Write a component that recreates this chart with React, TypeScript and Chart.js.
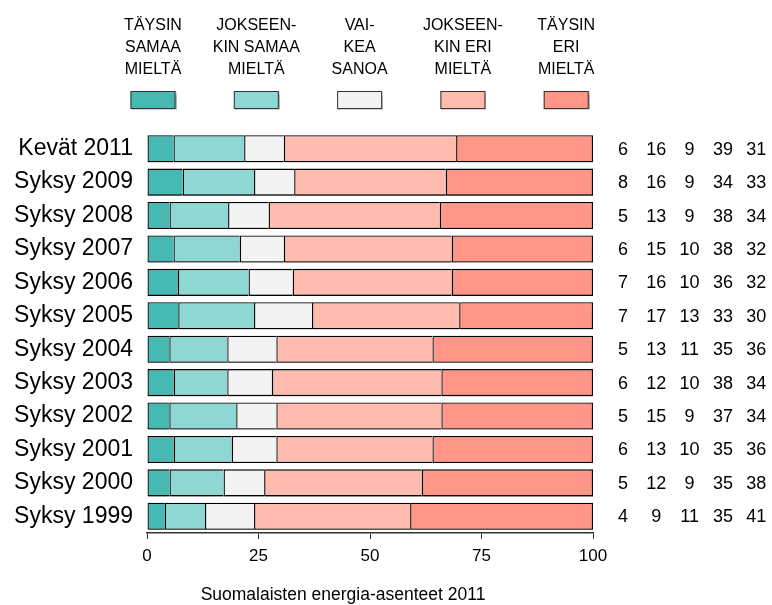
import React, { useEffect, useRef } from "react";
import { Chart, registerables } from "chart.js";
Chart.register(...registerables);

const categories = [
  "Kevät 2011", "Syksy 2009", "Syksy 2008", "Syksy 2007", "Syksy 2006", "Syksy 2005",
  "Syksy 2004", "Syksy 2003", "Syksy 2002", "Syksy 2001", "Syksy 2000", "Syksy 1999",
];
const taysinSamaa = [6, 8, 5, 6, 7, 7, 5, 6, 5, 6, 5, 4];
const jokseenkinSamaa = [16, 16, 13, 15, 16, 17, 13, 12, 15, 13, 12, 9];
const vaikeaSanoa = [9, 9, 9, 10, 10, 13, 11, 10, 9, 10, 9, 11];
const jokseenkinEri = [39, 34, 38, 38, 36, 33, 35, 38, 37, 35, 35, 35];
const taysinEri = [31, 33, 34, 32, 32, 30, 36, 34, 34, 36, 38, 41];

const legendLines = [
  ["TÄYSIN", "SAMAA", "MIELTÄ"],
  ["JOKSEEN-", "KIN SAMAA", "MIELTÄ"],
  ["VAI-", "KEA", "SANOA"],
  ["JOKSEEN-", "KIN ERI", "MIELTÄ"],
  ["TÄYSIN", "ERI", "MIELTÄ"],
];
const xTicks = [0, 25, 50, 75, 100];
const caption = "Suomalaisten energia-asenteet 2011";

const colors = ["#46B9B3", "#8FD7D3", "#F3F3F3", "#FFBBAE", "#FF9688"];
const FONT = "'Liberation Sans', Arial, Helvetica, sans-serif";

export default function App() {
  const ref = useRef<HTMLCanvasElement>(null);
  useEffect(() => {
    const series = [taysinSamaa, jokseenkinSamaa, vaikeaSanoa, jokseenkinEri, taysinEri];
    const totals = categories.map((_, i) => series.reduce((s, a) => s + a[i], 0));

    const shadow = {
      id: "shadow",
      beforeDatasetsDraw(chart: any) {
        const ctx = chart.ctx;
        ctx.save();
        ctx.shadowColor = "rgba(0,0,0,0.35)";
        ctx.shadowOffsetX = 1;
        ctx.shadowOffsetY = 1.5;
        ctx.shadowBlur = 1;
      },
      afterDatasetsDraw(chart: any) {
        chart.ctx.restore();
      },
    };

    const overlay = {
      id: "overlay",
      afterDraw(chart: any) {
        const ctx = chart.ctx;
        ctx.save();
        ctx.fillStyle = "#000";
        // legend
        ctx.textAlign = "center";
        ctx.textBaseline = "middle";
        ctx.font = `16px ${FONT}`;
        legendLines.forEach((lines, k) => {
          const cx = 153 + k * 103.3;
          lines.forEach((t, j) => {
            ctx.fillStyle = "#000";
            ctx.fillText(t, cx, 26 + j * 22);
          });
          ctx.save();
          ctx.shadowColor = "rgba(0,0,0,0.3)";
          ctx.shadowOffsetX = 1;
          ctx.shadowOffsetY = 1;
          ctx.shadowBlur = 1;
          ctx.fillStyle = colors[k];
          ctx.fillRect(cx - 22.5, 91, 45, 18);
          ctx.restore();
          ctx.strokeStyle = "#333";
          ctx.lineWidth = 1;
          ctx.strokeRect(cx - 22, 91.5, 44, 17);
        });
        // numbers on the right
        ctx.font = `18px ${FONT}`;
        ctx.fillStyle = "#000";
        const yScale = chart.scales.y;
        categories.forEach((_, i) => {
          const y = yScale.getPixelForValue(i);
          series.forEach((arr, k) => {
            ctx.fillText(String(arr[i]), 623 + k * 33.3, y + 1);
          });
        });
        // caption
        ctx.font = `17.5px ${FONT}`;
        ctx.fillText(caption, 343, 595);
        ctx.restore();
      },
    };

    const chart = new Chart(ref.current as HTMLCanvasElement, {
      type: "bar",
      data: {
        labels: categories,
        datasets: series.map((arr, k) => ({
          label: legendLines[k].join(" "),
          data: arr.map((v, i) => (v / totals[i]) * 100),
          backgroundColor: colors[k],
          borderColor: "#000",
          borderWidth: k === series.length - 1 ? 1.3 : { top: 1.3, bottom: 1.3, left: 1.3, right: 0 },
          borderSkipped: false,
          barPercentage: 0.81,
          categoryPercentage: 1,
        })),
      },
      options: {
        indexAxis: "y",
        responsive: false,
        animation: false,
        layout: { padding: { top: 132, right: 179, left: 0, bottom: 0 } },
        plugins: {
          legend: { display: false },
          tooltip: { enabled: false },
        },
        scales: {
          x: {
            stacked: true,
            min: 0,
            max: 100,
            afterBuildTicks: (s: any) => {
              s.ticks = xTicks.map((v) => ({ value: v }));
            },
            grid: { drawOnChartArea: false, drawTicks: true, tickLength: 6, color: "#333" },
            border: { display: true, color: "#333", width: 1.5 },
            ticks: { font: { family: FONT, size: 17 }, color: "#000", padding: 7, maxRotation: 0 },
            afterFit: (s: any) => {
              s.height = 72;
            },
          },
          y: {
            stacked: true,
            grid: { display: false },
            border: { display: false },
            ticks: { font: { family: FONT, size: 23 }, color: "#000", padding: 6 },
            afterFit: (s: any) => {
              s.width = 147;
            },
          },
        },
      } as any,
      plugins: [shadow, overlay],
    });
    return () => chart.destroy();
  }, []);
  return (
    <div style={{ position: "fixed", left: 0, top: 0, width: 772, height: 605, background: "#fff" }}>
      <canvas ref={ref} width={772} height={605} style={{ width: 772, height: 605, display: "block" }} />
    </div>
  );
}
